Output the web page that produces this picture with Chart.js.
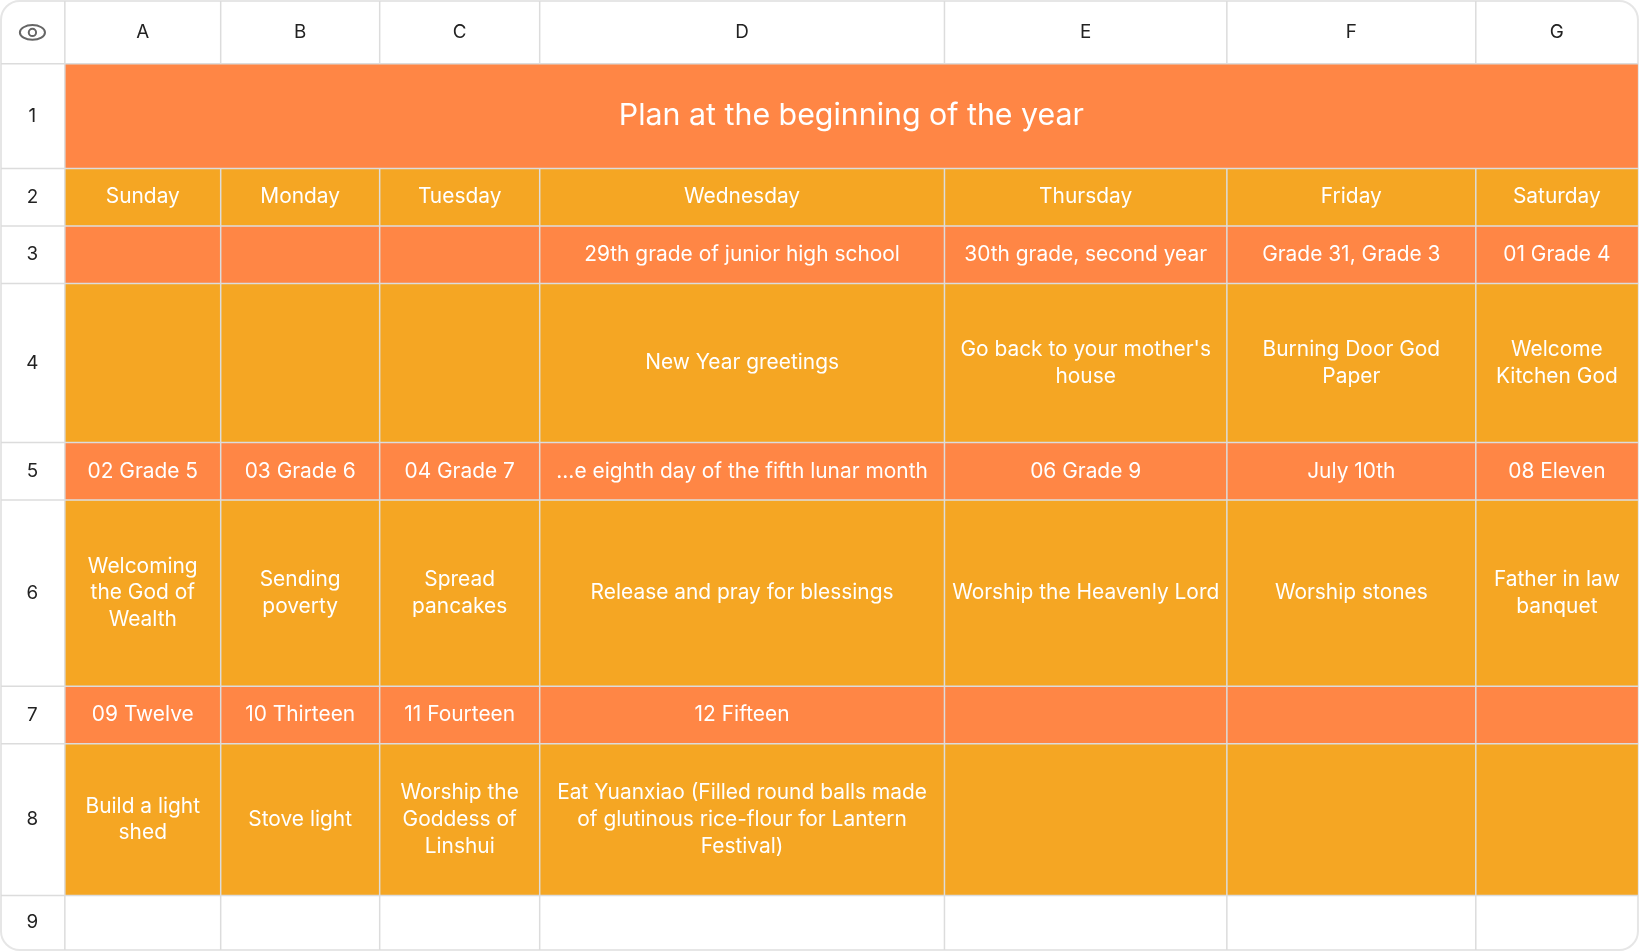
<!DOCTYPE html>
<html>
<head>
<meta charset="utf-8">
<script src="https://cdn.jsdelivr.net/npm/chart.js@4.4.0/dist/chart.umd.min.js"></script>
<style>
  html, body { margin: 0; padding: 0; background: #fff; }
  #wrap { width: 1640px; height: 952px; }
</style>
</head>
<body>
<div id="wrap"><canvas id="sheet"></canvas></div>
<script>
// Sheet layout (in reference units, full sheet = 1568 x 910)
const colLetters = ['A', 'B', 'C', 'D', 'E', 'F', 'G'];
const colEdges = [0, 62, 211, 363, 516, 903, 1173, 1411, 1566];
const rowEdges = [0, 61, 161, 216, 271, 423, 478, 656, 711, 856, 908];

const title = 'Plan at the beginning of the year';
const days = ['Sunday', 'Monday', 'Tuesday', 'Wednesday', 'Thursday', 'Friday', 'Saturday'];
const dates1 = ['', '', '', '29th grade of junior high school', '30th grade, second year', 'Grade 31, Grade 3', '01 Grade 4'];
const events1 = ['', '', '', 'New Year greetings', "Go back to your mother's house", 'Burning Door God Paper', 'Welcome Kitchen God'];
const dates2 = ['02 Grade 5', '03 Grade 6', '04 Grade 7', '\u2026e eighth day of the fifth lunar month', '06 Grade 9', 'July 10th', '08 Eleven'];
const events2 = ['Welcoming the God of Wealth', 'Sending poverty', 'Spread pancakes', 'Release and pray for blessings', 'Worship the Heavenly Lord', 'Worship stones', 'Father in law banquet'];
const dates3 = ['09 Twelve', '10 Thirteen', '11 Fourteen', '12 Fifteen', '', '', ''];
const events3 = ['Build a light shed', 'Stove light', 'Worship the Goddess of Linshui', 'Eat Yuanxiao (Filled round balls made of glutinous rice-flour for Lantern Festival)', '', '', ''];
const bodyRows = [days, dates1, events1, dates2, events2, dates3, events3];
const rowKinds = ['day', 'date', 'event', 'date', 'event', 'date', 'event'];

const ORANGE = '#FF8645';
const AMBER = '#F5A623';
const FONT = 'Inter, "Noto Sans", sans-serif';

function wrapLines(ctx, text, maxW) {
  const words = text.split(' ');
  const lines = [];
  let line = '';
  words.forEach(w => {
    const test = line ? line + ' ' + w : w;
    if (ctx.measureText(test).width > maxW && line) {
      lines.push(line);
      line = w;
    } else {
      line = test;
    }
  });
  if (line) lines.push(line);
  return lines;
}

const sheetPlugin = {
  id: 'sheet',
  afterDraw(chart) {
    const ctx = chart.ctx;
    const xs = chart.scales.x, ys = chart.scales.y;
    const X = v => xs.getPixelForValue(v);
    const Y = v => ys.getPixelForValue(v);
    const k = (X(100) - X(0)) / 100;

    ctx.save();
    // outer rounded frame
    ctx.beginPath();
    ctx.roundRect(X(0) + 1, Y(0) + 1, X(1567) - X(0) - 2, Y(909) - Y(0) - 2, 18 * k);
    ctx.fillStyle = '#fff';
    ctx.fill();
    ctx.strokeStyle = '#e6e6e6';
    ctx.lineWidth = 2;
    ctx.stroke();
    ctx.clip();

    // body fills
    for (let r = 0; r < bodyRows.length; r++) {
      const y0 = Y(rowEdges[r + 2]), y1 = Y(rowEdges[r + 3]);
      ctx.fillStyle = rowKinds[r] === 'date' ? ORANGE : AMBER;
      ctx.fillRect(X(colEdges[1]), y0, X(colEdges[8]) - X(colEdges[1]), y1 - y0);
    }
    // title row
    ctx.fillStyle = ORANGE;
    ctx.fillRect(X(colEdges[1]), Y(rowEdges[1]), X(colEdges[8]) - X(colEdges[1]), Y(rowEdges[2]) - Y(rowEdges[1]));

    // grid lines
    ctx.strokeStyle = '#dcdcdc';
    ctx.lineWidth = 1.5;
    colEdges.slice(1, 8).forEach(c => {
      ctx.beginPath();
      const top = Y(0), bot = Y(910);
      if (c === colEdges[1]) {
        ctx.moveTo(X(c), top); ctx.lineTo(X(c), bot);
      } else {
        ctx.moveTo(X(c), top); ctx.lineTo(X(c), Y(rowEdges[1]));
        ctx.moveTo(X(c), Y(rowEdges[2])); ctx.lineTo(X(c), bot);
      }
      ctx.stroke();
    });
    rowEdges.slice(1, 10).forEach(r => {
      ctx.beginPath();
      ctx.moveTo(X(0), Y(r)); ctx.lineTo(X(1568), Y(r));
      ctx.stroke();
    });

    // column letters
    ctx.textAlign = 'center';
    ctx.textBaseline = 'middle';
    ctx.fillStyle = '#222';
    ctx.font = (18 * k) + 'px ' + FONT;
    colLetters.forEach((l, i) => {
      ctx.fillText(l, (X(colEdges[i + 1]) + X(colEdges[i + 2])) / 2, Y(31));
    });
    // row numbers
    for (let r = 1; r <= 9; r++) {
      ctx.fillText(String(r), X(31), (Y(rowEdges[r]) + Y(rowEdges[r + 1])) / 2);
    }
    // eye icon
    ctx.strokeStyle = '#666';
    ctx.lineWidth = 2;
    ctx.beginPath();
    ctx.ellipse(X(31), Y(31), 12 * k, 7 * k, 0, 0, Math.PI * 2);
    ctx.stroke();
    ctx.beginPath();
    ctx.arc(X(31), Y(31), 3.5 * k, 0, Math.PI * 2);
    ctx.stroke();

    // title
    ctx.fillStyle = '#fff';
    ctx.font = (29 * k) + 'px ' + FONT;
    ctx.fillText(title, (X(colEdges[1]) + X(colEdges[8])) / 2, (Y(rowEdges[1]) + Y(rowEdges[2])) / 2);

    // cell text
    ctx.font = (20 * k) + 'px ' + FONT;
    const lh = 25.5 * k;
    bodyRows.forEach((row, r) => {
      const cy = (Y(rowEdges[r + 2]) + Y(rowEdges[r + 3])) / 2;
      row.forEach((txt, c) => {
        if (!txt) return;
        const x0 = X(colEdges[c + 1]), x1 = X(colEdges[c + 2]);
        const lines = rowKinds[r] === 'event' ? wrapLines(ctx, txt, x1 - x0 - 14 * k) : [txt];
        lines.forEach((ln, i) => {
          ctx.fillText(ln, (x0 + x1) / 2, cy + (i - (lines.length - 1) / 2) * lh);
        });
      });
    });
    ctx.restore();
  }
};

new Chart(document.getElementById('sheet'), {
  type: 'scatter',
  data: { datasets: [{ data: [], pointRadius: 0 }] },
  options: {
    responsive: true,
    maintainAspectRatio: false,
    animation: false,
    layout: { padding: 0 },
    plugins: { legend: { display: false }, tooltip: { enabled: false } },
    scales: {
      x: { type: 'linear', min: 0, max: 1568, display: false },
      y: { type: 'linear', min: 0, max: 910, reverse: true, display: false }
    }
  },
  plugins: [sheetPlugin]
});
</script>
</body>
</html>
